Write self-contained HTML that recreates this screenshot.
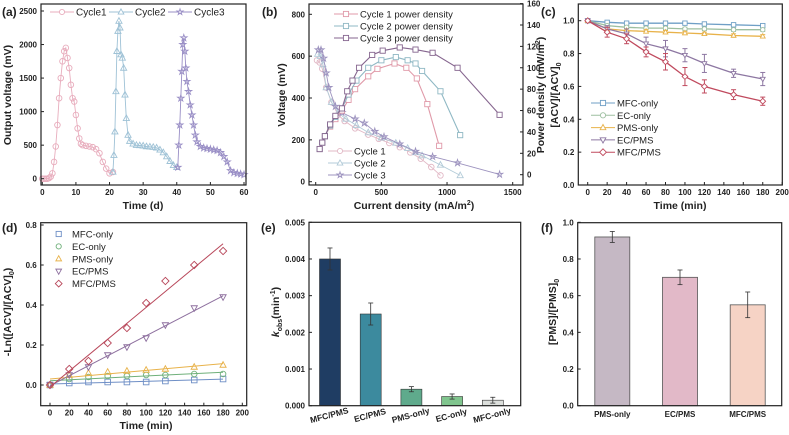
<!DOCTYPE html>
<html><head><meta charset="utf-8"><style>
html,body{margin:0;padding:0;background:#fff;}
svg{display:block;font-family:"Liberation Sans",Arial,sans-serif;}
</style></head><body>
<svg id="fig" width="789" height="435" viewBox="0 0 789 435" xmlns="http://www.w3.org/2000/svg"></svg>
<script>
// ---------- Panel (a) data ----------
const aC1t=[0,0.5,1,1.5,2,2.5,3,3.5,4,4.5,5,5.5,6,6.5,7,7.5,8,8.5,9,9.5,10,10.5,11,11.5,12,13,14,15,16,17,18,19,20,21];
const aC1v=[0,0,0,0,10,30,80,250,480,800,1200,1500,1750,1900,1950,1800,1650,1400,1200,1150,950,750,600,520,500,490,480,470,440,380,250,150,80,100];
const aC2t=[21,21.3,21.6,21.9,22.2,22.5,22.8,23.1,23.4,23.8,24.2,24.6,25,25.5,26,27,28,29,30,31,32,33,34,35,36,37,38,39,40];
const aC2v=[100,350,700,1300,1900,2200,2350,2250,1850,1800,1650,1250,900,650,560,520,500,495,490,480,475,470,460,430,390,330,260,200,170];
const aC3t=[40.3,40.6,40.9,41.2,41.5,41.8,42.1,42.4,42.7,43,43.5,44,44.5,45,45.5,46,47,48,49,50,51,52,53,54,55,56,57,58,59,60];
const aC3v=[170,500,800,1200,1600,2000,2100,1900,1650,1450,1300,1100,950,800,650,550,480,460,450,440,430,420,390,330,250,120,90,80,70,60];
const aXTicks=[0,10,20,30,40,50,60];
const aYTicks=[0,500,1000,1500,2000,2500];
// ---------- Panel (b) data ----------
const bV1x=[10,30,50,80,120,170,220,300,400,480,560,640,720,800,880,950];
const bV1y=[580,570,540,450,380,320,290,255,225,205,185,165,140,110,70,30];
const bV2x=[15,35,55,80,120,170,230,310,400,500,610,700,760,810,950,1100];
const bV2y=[610,600,560,450,380,330,300,270,235,210,185,160,140,125,80,30];
const bV3x=[20,40,60,80,100,150,200,300,370,450,520,640,760,890,1080,1400];
const bV3y=[630,630,590,520,450,360,330,300,280,240,215,180,145,120,90,35];
const bP1x=[30,50,70,110,150,200,250,300,400,470,600,690,770,850,940];
const bP1y=[24,30,36,45,52,60,70,80,92,99,104,100,90,66,27];
const bP2x=[30,50,70,110,150,200,250,310,400,500,610,700,760,810,950,1100];
const bP2y=[24,30,36,46,54,62,75,88,100,107,110,107,104,97,78,37];
const bP3x=[30,50,70,110,150,200,240,280,330,430,510,640,760,890,1080,1400];
const bP3y=[24,30,36,47,55,62,78,88,100,112,116,119,117,114,100,56];
const bXTicks=[0,500,1000,1500];
const bYTicks=[0,200,400,600,800];
const bY2Ticks=[0,20,40,60,80,100,120,140,160];
// ---------- Panel (c) data ----------
const cTime=[0,20,40,60,80,100,120,150,180];
const cMFC=[1,0.99,0.985,0.985,0.985,0.985,0.98,0.975,0.97];
const cEC=[1,0.97,0.96,0.955,0.955,0.95,0.95,0.945,0.945];
const cPMS=[1,0.95,0.94,0.935,0.93,0.925,0.92,0.91,0.905];
const cECPMS=[1,0.95,0.92,0.86,0.83,0.79,0.74,0.68,0.645];
const cMFCPMS=[1,0.93,0.89,0.81,0.75,0.66,0.6,0.55,0.51];
const cErrSmall=[0,0.01,0.01,0.01,0.01,0.01,0.01,0.01,0.01];
const cErrECPMS=[0,0.02,0.03,0.04,0.05,0.04,0.055,0.025,0.04];
const cErrMFCPMS=[0,0.03,0.03,0.03,0.05,0.055,0.04,0.03,0.025];
const cXTicks=[0,20,40,60,80,100,120,140,160,180,200];
const cYTicks=[0,0.2,0.4,0.6,0.8,1.0];
// ---------- Panel (d) data ----------
const dTime=[0,20,40,60,80,100,120,150,180];
const dMFC=[0,0.01,0.015,0.015,0.015,0.015,0.02,0.025,0.03];
const dEC=[0,0.03,0.04,0.045,0.045,0.05,0.05,0.055,0.055];
const dPMS=[0,0.05,0.06,0.065,0.07,0.075,0.08,0.09,0.1];
const dECPMS=[0,0.05,0.09,0.15,0.19,0.235,0.3,0.385,0.44];
const dMFCPMS=[0,0.08,0.12,0.21,0.285,0.41,0.52,0.6,0.67];
const dXTicks=[0,20,40,60,80,100,120,140,160,180,200];
const dYTicks=[0,0.2,0.4,0.6,0.8];
// ---------- Panel (e) data ----------
const eCats=["MFC/PMS","EC/PMS","PMS-only","EC-only","MFC-only"];
const eVals=[0.004,0.0025,0.00045,0.00025,0.00015];
const eErrs=[0.0003,0.0003,0.00007,0.00007,0.00008];
const eYTicks=[0,0.001,0.002,0.003,0.004,0.005];
// ---------- Panel (f) data ----------
const fCats=["PMS-only","EC/PMS","MFC/PMS"];
const fVals=[0.92,0.70,0.55];
const fErrs=[0.03,0.04,0.07];
const fYTicks=[0,0.2,0.4,0.6,0.8,1.0];

const NS="http://www.w3.org/2000/svg";
const svg=document.getElementById('fig');
function mk(tag,attrs,name,parent){
  const el=document.createElementNS(NS,tag);
  for(const k in attrs) el.setAttribute(k,attrs[k]);
  
  
  (parent||svg).appendChild(el);
  return el;
}
function txt(x,y,s,name,o){
  o=o||{};
  const t=mk('text',{x:x,y:y,'font-size':o.fs||8,'font-weight':o.fw||'bold','text-anchor':o.a||'middle',fill:o.fill||'#222'},name);
  if(o.rot!==undefined) t.setAttribute('transform','rotate('+o.rot+' '+x+' '+y+')');
  t.innerHTML=s;
  return t;
}
function lin(d0,d1,r0,r1){return v=>r0+(v-d0)*(r1-r0)/(d1-d0);}
function frame(x0,y0,x1,y1,name){
  mk('rect',{x:x0,y:y0,width:x1-x0,height:y1-y0,fill:'none',stroke:'#222','stroke-width':1.2},name);
}
function xticks(ticks,xs,y,name,fmt){
  ticks.forEach(v=>{
    mk('line',{x1:xs(v),x2:xs(v),y1:y,y2:y-3,stroke:'#222','stroke-width':1},name+'-tick');
    txt(xs(v),y+10,fmt?fmt(v):v,name+'-label');
  });
}
function yticks(ticks,ys,x,name,fmt,right){
  ticks.forEach(v=>{
    mk('line',{x1:x,x2:right?x-3:x+3,y1:ys(v),y2:ys(v),stroke:'#222','stroke-width':1},name+'-tick');
    txt(right?x+4:x-4,ys(v)+3,fmt?fmt(v):v,name+'-label',{a:right?'start':'end'});
  });
}
function marker(shape,x,y,s,col,name,fill){
  const f=fill||'none';let el;
  if(shape==='circle') el=mk('circle',{cx:x,cy:y,r:s,fill:f,stroke:col,'stroke-width':0.9},name);
  else if(shape==='square') el=mk('rect',{x:x-s,y:y-s,width:2*s,height:2*s,fill:f,stroke:col,'stroke-width':0.9},name);
  else if(shape==='tri') el=mk('polygon',{points:`${x},${y-s*1.2} ${x-s*1.1},${y+s*0.8} ${x+s*1.1},${y+s*0.8}`,fill:f,stroke:col,'stroke-width':0.9},name);
  else if(shape==='dtri') el=mk('polygon',{points:`${x},${y+s*1.2} ${x-s*1.1},${y-s*0.8} ${x+s*1.1},${y-s*0.8}`,fill:f,stroke:col,'stroke-width':0.9},name);
  else if(shape==='diamond') el=mk('polygon',{points:`${x},${y-s*1.3} ${x+s*1.3},${y} ${x},${y+s*1.3} ${x-s*1.3},${y}`,fill:f,stroke:col,'stroke-width':0.9},name);
  else { let p=[];for(let i=0;i<10;i++){const r=i%2?s*0.45:s*1.2;const a=-Math.PI/2+i*Math.PI/5;p.push((x+r*Math.cos(a)).toFixed(1)+','+(y+r*Math.sin(a)).toFixed(1));}
    el=mk('polygon',{points:p.join(' '),fill:f,stroke:col,'stroke-width':0.9},name);}
  return el;
}
function polyline(xsArr,ysArr,xs,ys,col,name,w){
  const pts=xsArr.map((v,i)=>xs(v).toFixed(1)+','+ys(ysArr[i]).toFixed(1)).join(' ');
  return mk('polyline',{points:pts,fill:'none',stroke:col,'stroke-width':w||0.9},name);
}
function legendLine(x,y,shape,col,label,name,fs){
  mk('line',{x1:x,x2:x+24,y1:y,y2:y,stroke:col,'stroke-width':1},name+'-line');
  marker(shape,x+12,y,2.6,col,name+'-marker','#fff');
  txt(x+26,y+3.5,label,name+'-text',{a:'start',fw:'normal',fs:fs||9.5});
}

// ================= Panel (a) =================
{
  const xs=lin(0,60,42.3,244), ys=lin(0,2500,178.7,11);
  const series=[[aC1t,aC1v,'#e8adbd','circle','cycle1'],[aC2t,aC2v,'#9fc2d6','tri','cycle2'],[aC3t,aC3v,'#9a8fc6','star','cycle3']];
  series.forEach(s=>{
    polyline(s[0],s[1],xs,ys,s[2],'a-'+s[4]+'-line');
    s[0].forEach((t,i)=>marker(s[3],xs(t),ys(s[1][i]),2.8,s[2],'a-'+s[4]+'-point'));
  });
  frame(41,4,246,185,'a-plot-frame');
  xticks(aXTicks,xs,185,'a-x');
  yticks(aYTicks,ys,41,'a-y');
  txt(143,209,'Time (d)','a-x-axis-title',{fs:10.5});
  txt(11,95,'Output voltage (mV)','a-y-axis-title',{fs:10.5,rot:-90});
  txt(2,16,'(a)','a-panel-label',{fs:12,a:'start'});
  legendLine(50,12,'circle','#e8adbd','Cycle1','a-legend-cycle1',10);
  legendLine(109,12,'tri','#9fc2d6','Cycle2','a-legend-cycle2',10);
  legendLine(168,12,'star','#9a8fc6','Cycle3','a-legend-cycle3',10);
}
// ================= Panel (b) =================
{
  const xs=lin(0,1500,315.7,512.7), yl=lin(0,800,181.7,14.3), yr=lin(0,160,174.7,3.6);
  const vs=[[bV1x,bV1y,'#e2b9c6','circle','cycle1-voltage'],[bV2x,bV2y,'#b3cbd8','tri','cycle2-voltage'],[bV3x,bV3y,'#9d93bf','star','cycle3-voltage']];
  vs.forEach(s=>{polyline(s[0],s[1],xs,yl,s[2],'b-'+s[4]+'-line');s[0].forEach((v,i)=>marker(s[3],xs(v),yl(s[1][i]),2.8,s[2],'b-'+s[4]+'-point'));});
  const ps=[[bP1x,bP1y,'#e09aa9','cycle1-power'],[bP2x,bP2y,'#8fb8c4','cycle2-power'],[bP3x,bP3y,'#86668f','cycle3-power']];
  ps.forEach(s=>{polyline(s[0],s[1],xs,yr,s[2],'b-'+s[3]+'-line',1.1);s[0].forEach((v,i)=>marker('square',xs(v),yr(s[1][i]),2.6,s[2],'b-'+s[3]+'-point','#fff'));});
  frame(309,4,523,185,'b-plot-frame');
  xticks(bXTicks,xs,185,'b-x');
  yticks(bYTicks,yl,309,'b-y-left');
  yticks(bY2Ticks,yr,523,'b-y-right',null,true);
  txt(414,209,'Current density (mA/m<tspan font-size="7" dy="-4">2</tspan><tspan dy="4">)</tspan>','b-x-axis-title',{fs:10.5});
  txt(285,95,'Voltage (mV)','b-y-left-axis-title',{fs:10.5,rot:-90});
  txt(544,95,'Power density (mW/m<tspan font-size="7" dy="-4">2</tspan><tspan dy="4">)</tspan>','b-y-right-axis-title',{fs:10.5,rot:-90});
  txt(262,16,'(b)','b-panel-label',{fs:12,a:'start'});
  legendLine(334,14,'square','#e09aa9','Cycle 1 power density','b-legend-p1');
  legendLine(334,26,'square','#8fb8c4','Cycle 2 power density','b-legend-p2');
  legendLine(334,38,'square','#86668f','Cycle 3 power density','b-legend-p3');
  legendLine(328,151,'circle','#e2b9c6','Cycle 1','b-legend-v1');
  legendLine(328,163,'tri','#b3cbd8','Cycle 2','b-legend-v2');
  legendLine(328,175,'star','#9d93bf','Cycle 3','b-legend-v3');
}
// ================= Panel (c) =================
{
  const xs=lin(0,200,587.7,782.2), ys=lin(0,1,185,20.7);
  const ser=[[cMFC,cErrSmall,'#6f9fc6','square','mfc-only'],[cEC,cErrSmall,'#9dbfa0','circle','ec-only'],[cPMS,cErrSmall,'#e8b24a','tri','pms-only'],[cECPMS,cErrECPMS,'#8d77a2','dtri','ec-pms'],[cMFCPMS,cErrMFCPMS,'#c04a5e','diamond','mfc-pms']];
  ser.forEach(s=>{
    polyline(cTime,s[0],xs,ys,s[2],'c-'+s[4]+'-line',1.3);
    cTime.forEach((t,i)=>{
      const e=s[1][i];
      if(e>0){mk('line',{x1:xs(t),x2:xs(t),y1:ys(s[0][i]-e),y2:ys(s[0][i]+e),stroke:s[2],'stroke-width':1},'c-'+s[4]+'-errorbar');
        mk('line',{x1:xs(t)-2.5,x2:xs(t)+2.5,y1:ys(s[0][i]-e),y2:ys(s[0][i]-e),stroke:s[2],'stroke-width':1},'c-'+s[4]+'-errorcap');
        mk('line',{x1:xs(t)-2.5,x2:xs(t)+2.5,y1:ys(s[0][i]+e),y2:ys(s[0][i]+e),stroke:s[2],'stroke-width':1},'c-'+s[4]+'-errorcap');}
      marker(s[3],xs(t),ys(s[0][i]),2.2,s[2],'c-'+s[4]+'-point','#fff');
    });
  });
  frame(578.3,4,782.3,185,'c-plot-frame');
  xticks(cXTicks,xs,185,'c-x');
  yticks(cYTicks,ys,578.3,'c-y',v=>v.toFixed(1));
  txt(680,209,'Time (min)','c-x-axis-title',{fs:10.5});
  txt(558,95,'[ACV]/[ACV]<tspan font-size="7" dy="3">0</tspan>','c-y-axis-title',{fs:10.5,rot:-90});
  txt(541,16,'(c)','c-panel-label',{fs:12,a:'start'});
  legendLine(591,103,'square','#6f9fc6','MFC-only','c-legend-mfc-only',9.5);
  legendLine(591,115.3,'circle','#9dbfa0','EC-only','c-legend-ec-only',9.5);
  legendLine(591,127.6,'tri','#e8b24a','PMS-only','c-legend-pms-only',9.5);
  legendLine(591,139.9,'dtri','#8d77a2','EC/PMS','c-legend-ec-pms',9.5);
  legendLine(591,152.2,'diamond','#c04a5e','MFC/PMS','c-legend-mfc-pms',9.5);
}
// ================= Panel (d) =================
{
  const xs=lin(0,200,50,242.3), ys=lin(0,0.8,385,225);
  const ser=[[dMFC,'#6f8fc6','square','mfc-only'],[dEC,'#6fb07a','circle','ec-only'],[dPMS,'#e8b24a','tri','pms-only'],[dECPMS,'#8d6f9e','dtri','ec-pms'],[dMFCPMS,'#b8475a','diamond','mfc-pms']];
  ser.forEach(s=>{
    const n=dTime.length;let sx=0,sy=0,sxx=0,sxy=0;
    dTime.forEach((t,i)=>{sx+=t;sy+=s[0][i];sxx+=t*t;sxy+=t*s[0][i];});
    const k=(n*sxy-sx*sy)/(n*sxx-sx*sx), b=(sy-k*sx)/n;
    mk('line',{x1:xs(0),y1:ys(b),x2:xs(180),y2:ys(b+k*180),stroke:s[1],'stroke-width':1},'d-'+s[3]+'-fit-line');
    dTime.forEach((t,i)=>marker(s[2],xs(t),ys(s[0][i]),2.8,s[1],'d-'+s[3]+'-point'));
  });
  frame(40.7,222.7,246.7,405.7,'d-plot-frame');
  xticks(dXTicks,xs,405.7,'d-x');
  yticks(dYTicks,ys,40.7,'d-y',v=>v.toFixed(1));
  txt(146,429,'Time (min)','d-x-axis-title',{fs:10.5});
  txt(11,312,'-Ln([ACV]/[ACV]<tspan font-size="7" dy="3">0</tspan><tspan dy="-3">)</tspan>','d-y-axis-title',{fs:10.5,rot:-90});
  txt(2,232,'(d)','d-panel-label',{fs:12,a:'start'});
  const lg=[['square','#6f8fc6','MFC-only'],['circle','#6fb07a','EC-only'],['tri','#e8b24a','PMS-only'],['dtri','#8d6f9e','EC/PMS'],['diamond','#b8475a','MFC/PMS']];
  lg.forEach((l,i)=>{marker(l[0],58.7,234+i*12.4,2.6,l[1],'d-legend-marker');txt(72,237.5+i*12.4,l[2],'d-legend-text',{a:'start',fw:'normal',fs:9.5});});
}
// ================= Panel (e) =================
{
  const ys=lin(0,0.005,405.7,222.3);
  const cols=['#1f3d63','#3c8a9e','#5faa8c','#80c58e','#dcdfdc'];
  eVals.forEach((v,i)=>{
    const cx=330+i*40.7;
    mk('rect',{x:cx-10.5,y:ys(v),width:21,height:ys(0)-ys(v),fill:cols[i],stroke:'#333','stroke-width':0.6},'e-bar-'+eCats[i].toLowerCase().replace('/','-'));
    mk('line',{x1:cx,x2:cx,y1:ys(v-eErrs[i]),y2:ys(v+eErrs[i]),stroke:'#333','stroke-width':0.8},'e-errorbar');
    mk('line',{x1:cx-2.5,x2:cx+2.5,y1:ys(v+eErrs[i]),y2:ys(v+eErrs[i]),stroke:'#333','stroke-width':0.8},'e-errorcap');
    mk('line',{x1:cx-2.5,x2:cx+2.5,y1:ys(v-eErrs[i]),y2:ys(v-eErrs[i]),stroke:'#333','stroke-width':0.8},'e-errorcap');
    txt(cx,418,eCats[i],'e-x-category-label',{fs:8.5,rot:-15});
  });
  frame(309,222.3,520.7,405.7,'e-plot-frame');
  yticks(eYTicks,ys,309,'e-y',v=>v.toFixed(3));
  txt(279,312,'<tspan font-style="italic">k</tspan><tspan font-size="7" dy="3">obs</tspan><tspan dy="-3">(min</tspan><tspan font-size="7" dy="-4">-1</tspan><tspan dy="4">)</tspan>','e-y-axis-title',{fs:10.5,rot:-90});
  txt(261,232,'(e)','e-panel-label',{fs:12,a:'start'});
}
// ================= Panel (f) =================
{
  const ys=lin(0,1,405.7,222.3);
  const cols=['#c5b8c4','#e2b9c8','#f6d3c5'];
  fVals.forEach((v,i)=>{
    const cx=612.3+i*67.7;
    mk('rect',{x:cx-17.5,y:ys(v),width:35,height:ys(0)-ys(v),fill:cols[i],stroke:'#555','stroke-width':0.8},'f-bar-'+fCats[i].toLowerCase().replace('/','-'));
    mk('line',{x1:cx,x2:cx,y1:ys(v-fErrs[i]),y2:ys(v+fErrs[i]),stroke:'#333','stroke-width':0.8},'f-errorbar');
    mk('line',{x1:cx-2.5,x2:cx+2.5,y1:ys(v+fErrs[i]),y2:ys(v+fErrs[i]),stroke:'#333','stroke-width':0.8},'f-errorcap');
    mk('line',{x1:cx-2.5,x2:cx+2.5,y1:ys(v-fErrs[i]),y2:ys(v-fErrs[i]),stroke:'#333','stroke-width':0.8},'f-errorcap');
    txt(cx,417,fCats[i],'f-x-category-label',{fs:8});
  });
  frame(577.7,222.7,781.7,405.7,'f-plot-frame');
  yticks(fYTicks,ys,577.7,'f-y',v=>v.toFixed(1));
  txt(556,312,'[PMS]/[PMS]<tspan font-size="7" dy="3">0</tspan>','f-y-axis-title',{fs:10.5,rot:-90});
  txt(541,232,'(f)','f-panel-label',{fs:12,a:'start'});
}
</script>
</body></html>
